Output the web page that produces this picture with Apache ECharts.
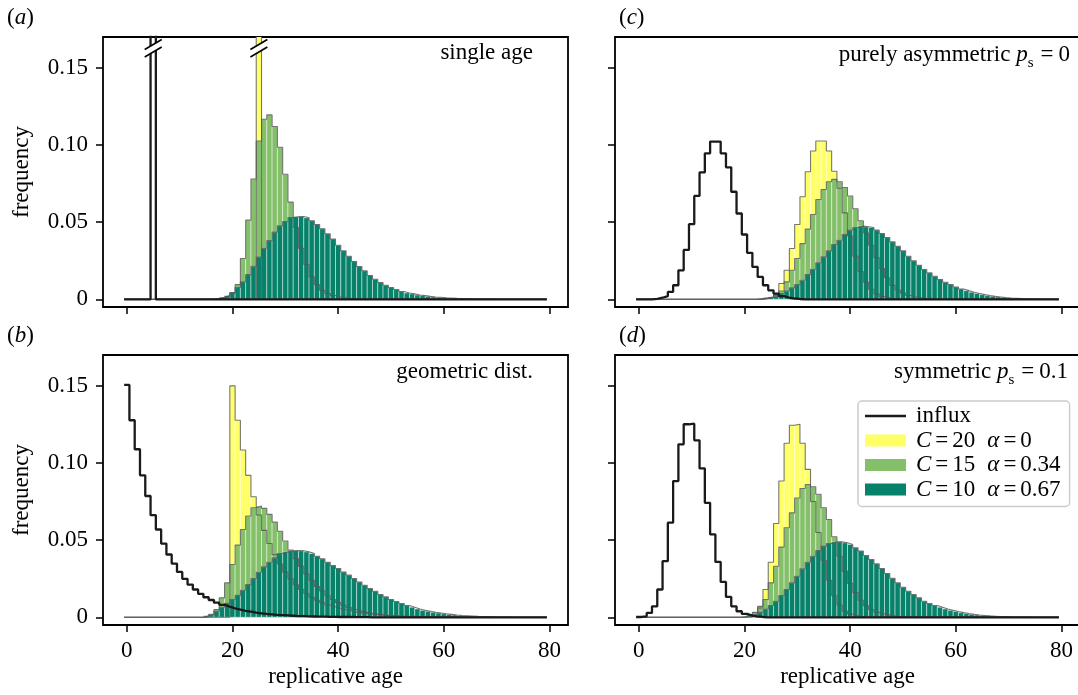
<!DOCTYPE html>
<html><head><meta charset="utf-8">
<script src="https://cdn.jsdelivr.net/npm/echarts@6/dist/echarts.min.js"></script>
<style>html,body{margin:0;padding:0;background:#fff}#c{width:1078px;height:695px}</style>
</head><body><div id="c"></div>
<script>
// ---------- data ----------
const ages = [0,1,2,3,4,5,6,7,8,9,10,11,12,13,14,15,16,17,18,19,20,21,22,23,24,25,26,27,28,29,30,31,32,33,34,35,36,37,38,39,
40,41,42,43,44,45,46,47,48,49,50,51,52,53,54,55,56,57,58,59,60,61,62,63,64,65,66,67,68,69,70,71,72,73,74,75,76,77,78,79];
const xTicks = [0,20,40,60,80];
const xTickLabels = ['0','20','40','60','80'];
const yTicks = [0,0.05,0.1,0.15];
const yTickLabels = ['0','0.05','0.10','0.15'];

// (a) single age
const influxA = [0,0,0,0,0,1,0,0,0,0, 0,0,0,0,0,0,0,0,0,0, 0,0,0,0,0,0,0,0,0,0, 0,0,0,0,0,0,0,0,0,0,
 0,0,0,0,0,0,0,0,0,0, 0,0,0,0,0,0,0,0,0,0, 0,0,0,0,0,0,0,0,0,0, 0,0,0,0,0,0,0,0,0,0];
const yellowA = [0,0,0,0,0,0,0,0,0,0, 0,0,0,0,0,0,0,0,0,0, 0,0,0,0,0,1,0,0,0,0, 0,0,0,0,0,0,0,0,0,0,
 0,0,0,0,0,0,0,0,0,0, 0,0,0,0,0,0,0,0,0,0, 0,0,0,0,0,0,0,0,0,0, 0,0,0,0,0,0,0,0,0,0];
const greenA = [0,0,0,0,0,0,0,0,0,0, 0,0,0,0,0,0,0,0,0,0.0015,
 0.004,0.0095,0.0264,0.0513,0.078,0.1026,0.1167,0.1195,0.112,0.0985,
 0.081,0.063,0.0465,0.033,0.0225,0.0145,0.0095,0.0058,0.0037,0.0024,
 0.0015,0.001,0.0006,0.0003,0,0,0,0,0,0, 0,0,0,0,0,0,0,0,0,0, 0,0,0,0,0,0,0,0,0,0, 0,0,0,0,0,0,0,0,0,0];
const tealA = [0,0,0,0,0,0,0,0,0,0, 0,0,0,0,0,0,0,0.0006,0.0013,0.0024,
 0.0043,0.0076,0.0113,0.016,0.0214,0.0273,0.0331,0.038,0.0435,0.0476,
 0.0504,0.053,0.0535,0.0537,0.0528,0.0509,0.0485,0.0457,0.0424,0.039,
 0.035,0.0314,0.0279,0.0245,0.0212,0.0184,0.0154,0.013,0.0108,0.0091,
 0.0076,0.0063,0.005,0.0041,0.0035,0.0028,0.0024,0.0019,0.0015,0.0013,
 0.001,0.0008,0.0006,0.0005,0.0004,0.0003,0.0002,0.0002,0.0001,0.0001, 0,0,0,0,0,0,0,0,0,0];
const breaksA = [[5,0.1627],[25,0.1627]];

// (b) geometric dist.
const influxB = [0.1506,0.1277,0.1089,0.092,0.0786,0.0662,0.0569,0.0478,0.0407,0.0348,
 0.0294,0.0249,0.0212,0.018,0.0152,0.013,0.0112,0.0095,0.0081,0.0069,
 0.0058,0.005,0.0042,0.0036,0.003,0.0026,0.0022,0.0019,0.0016,0.0014,
 0.0012,0.001,0.0008,0.0007,0.0006,0.0005,0.0004,0.0004,0.0003,0.0003,
 0.0002,0.0002,0.0002,0.0001,0.0001,0.0001,0,0,0,0, 0,0,0,0,0,0,0,0,0,0, 0,0,0,0,0,0,0,0,0,0, 0,0,0,0,0,0,0,0,0,0];
const yellowB = [0,0,0,0,0,0,0,0,0,0, 0,0,0,0,0,0,0,0,0,0,
 0.15,0.1277,0.1084,0.092,0.0781,0.0663,0.0563,0.0478,0.0406,0.0345,
 0.0293,0.0249,0.0211,0.018,0.0153,0.013,0.011,0.0094,0.008,0.0068,
 0.0058,0.0049,0.0042,0.0035,0.003,0.0026,0.0022,0.0019,0.0016,0.0013,
 0.0011,0.001,0.0008,0.0007,0.0006,0.0005,0.0004,0.0004,0.0003,0.0003,
 0.0002,0.0002,0.0002,0.0001,0.0001,0.0001,0,0,0,0, 0,0,0,0,0,0,0,0,0,0];
const greenB = [0,0,0,0,0,0,0,0,0,0, 0,0,0,0,0,0,0.002,0.005,0.0126,0.0223,
 0.0342,0.0468,0.0569,0.0656,0.071,0.0721,0.0706,0.0667,0.0617,0.0558,
 0.0494,0.0435,0.038,0.033,0.028,0.024,0.02,0.017,0.014,0.0115,
 0.0095,0.0078,0.0063,0.005,0.004,0.0032,0.0025,0.002,0.0015,0.0012,
 0.0009,0.0007,0.0005,0.0004,0.0003,0.0002,0.0002,0.0001,0,0, 0,0,0,0,0,0,0,0,0,0, 0,0,0,0,0,0,0,0,0,0];
const tealB = [0,0,0,0,0,0,0,0,0,0, 0,0,0,0,0,0.001,0.0017,0.004,0.0065,0.009,
 0.0115,0.0142,0.0175,0.0212,0.0251,0.0292,0.0327,0.0357,0.0385,0.0413,
 0.0424,0.0429,0.0433,0.0431,0.0424,0.0413,0.0396,0.0379,0.0357,0.0335,
 0.0316,0.0294,0.0273,0.0251,0.0229,0.0208,0.0186,0.0169,0.0147,0.0132,
 0.0115,0.0102,0.0089,0.0076,0.0065,0.0054,0.0045,0.0039,0.0033,0.0028,
 0.0023,0.0019,0.0015,0.0012,0.001,0.0008,0.0006,0.0005,0.0004,0.0003,
 0.0002,0.0002,0.0001,0,0,0,0,0,0,0];

// (c) purely asymmetric
const influxC = [0,0,0,0.0003,0.001,0.002,0.0048,0.0091,0.0188,0.032,
 0.0487,0.067,0.0822,0.0946,0.1022,0.1022,0.0946,0.0855,0.0697,0.0556,
 0.042,0.0301,0.021,0.0145,0.0091,0.0058,0.0037,0.002,0.001,0.0005,
 0.0002,0,0,0,0,0,0,0,0,0, 0,0,0,0,0,0,0,0,0,0, 0,0,0,0,0,0,0,0,0,0, 0,0,0,0,0,0,0,0,0,0, 0,0,0,0,0,0,0,0,0,0];
const yellowC = [0,0,0,0,0,0,0,0,0,0, 0,0,0,0,0,0,0,0,0,0,
 0,0,0,0,0.0006,0.0015,0.003,0.0102,0.0188,0.0329,
 0.0485,0.0665,0.0827,0.0961,0.1026,0.1026,0.0961,0.083,0.072,0.056,
 0.041,0.028,0.018,0.011,0.0065,0.0035,0.0018,0.0009,0.0004,0.0002,
 0,0,0,0,0,0,0,0,0,0, 0,0,0,0,0,0,0,0,0,0, 0,0,0,0,0,0,0,0,0,0];
const greenC = [0,0,0,0,0,0,0,0,0,0, 0,0,0,0,0,0,0,0,0,0,
 0,0,0,0,0.0005,0.001,0.0025,0.0054,0.0113,0.0188,
 0.0264,0.0361,0.0455,0.055,0.0647,0.0712,0.0762,0.0777,0.0762,0.0725,
 0.0669,0.0587,0.0509,0.043,0.035,0.027,0.02,0.014,0.009,0.006,
 0.004,0.0025,0.0015,0.001,0.0005,0.0003,0,0,0,0, 0,0,0,0,0,0,0,0,0,0, 0,0,0,0,0,0,0,0,0,0];
const tealC = [0,0,0,0,0,0,0,0,0,0, 0,0,0,0,0,0,0,0,0,0,
 0,0,0,0.0005,0.001,0.0015,0.002,0.0037,0.0054,0.0074,
 0.0095,0.0123,0.016,0.0195,0.0236,0.0275,0.0314,0.0355,0.0383,0.042,
 0.0448,0.0465,0.0474,0.047,0.0465,0.0448,0.0426,0.04,0.0372,0.0344,
 0.0314,0.0279,0.0249,0.0221,0.0193,0.0171,0.0149,0.0128,0.011,0.0095,
 0.008,0.0067,0.0056,0.0046,0.0038,0.003,0.0024,0.0019,0.0015,0.0011,
 0.0008,0.0006,0.0004,0.0003,0.0002,0.0001,0,0,0,0];

// (d) symmetric
const influxD = [0.0002,0.0006,0.0028,0.0071,0.018,0.0364,0.0613,0.0883,0.1121,0.1251,
 0.1255,0.1147,0.0965,0.0742,0.0537,0.0359,0.0229,0.0132,0.0071,0.0039,
 0.0022,0.0011,0.0005,0.0002,0,0,0,0,0,0, 0,0,0,0,0,0,0,0,0,0,
 0,0,0,0,0,0,0,0,0,0, 0,0,0,0,0,0,0,0,0,0, 0,0,0,0,0,0,0,0,0,0, 0,0,0,0,0,0,0,0,0,0];
const yellowD = [0,0,0,0,0,0,0,0,0,0, 0,0,0,0,0,0,0,0,0,0,
 0,0,0.002,0.006,0.018,0.0357,0.0608,0.0883,0.1128,0.1245,
 0.1251,0.1128,0.0959,0.075,0.055,0.037,0.024,0.014,0.008,0.004,
 0.002,0.001,0.0005,0,0,0,0,0,0,0, 0,0,0,0,0,0,0,0,0,0, 0,0,0,0,0,0,0,0,0,0, 0,0,0,0,0,0,0,0,0,0];
const greenD = [0,0,0,0,0,0,0,0,0,0, 0,0,0,0,0,0,0,0,0,0,
 0,0.0015,0.0032,0.0071,0.0115,0.0223,0.0331,0.0455,0.058,0.0677,
 0.0773,0.0835,0.0861,0.0846,0.0797,0.071,0.0634,0.0522,0.0396,0.0299,
 0.022,0.016,0.011,0.0075,0.005,0.0033,0.0022,0.0014,0.0009,0.0005,
 0.0003,0,0,0,0,0,0,0,0,0, 0,0,0,0,0,0,0,0,0,0, 0,0,0,0,0,0,0,0,0,0];
const tealD = [0,0,0,0,0,0,0,0,0,0, 0,0,0,0,0,0,0,0,0,0,
 0.0005,0.001,0.0017,0.0032,0.0054,0.0076,0.0104,0.0141,0.018,0.0223,
 0.0266,0.0314,0.0357,0.0396,0.0433,0.0461,0.0478,0.0489,0.0489,0.0483,
 0.0472,0.045,0.0429,0.04,0.0374,0.0346,0.0316,0.0284,0.0253,0.0223,
 0.0195,0.0169,0.0147,0.0126,0.0104,0.0089,0.0076,0.0065,0.0054,0.0045,
 0.0037,0.003,0.0024,0.0019,0.0015,0.0012,0.0009,0.0007,0.0005,0.0004,
 0.0003,0.0002,0.0002,0.0001,0,0,0,0,0,0];

// ---------- styling ----------
const F = 'Liberation Serif';
const COL = {influx:'#1a1a1a', c20:'#ffff66', c15:'#84c06a', c10:'#07826a'};
const FS = 23;

const panels = [
  {influx:influxA, c20:yellowA, c15:greenA, c10:tealA, breaks:breaksA, left:103, top:37, xl:false, yl:true},
  {influx:influxB, c20:yellowB, c15:greenB, c10:tealB, breaks:null, left:103, top:355, xl:true, yl:true},
  {influx:influxC, c20:yellowC, c15:greenC, c10:tealC, breaks:null, left:615, top:37, xl:false, yl:false},
  {influx:influxD, c20:yellowD, c15:greenD, c10:tealD, breaks:null, left:615, top:355, xl:true, yl:false}
];

function barRender(color){
  return function(params, api){
    const a = api.value(0), v = api.value(1);
    if (!(v > 0)) return null;
    const p0 = api.coord([a - 0.5, v]), p1 = api.coord([a + 0.5, 0]);
    return {type:'rect', shape:{x:p0[0], y:p0[1], width:p1[0]-p0[0], height:p1[1]-p0[1]},
      style:{fill:color, stroke:'rgba(255,255,255,0.55)', lineWidth:0.8}};
  };
}
function stepData(vals){
  const out = [];
  ages.forEach((a,i)=>{ out.push([a-0.5, vals[i]]); out.push([a+0.5, vals[i]]); });
  return out;
}
function breakRender(params, api){
  const c = api.coord([api.value(0), api.value(1)]);
  const hw = 8.5, dy = 5, g = 3.8;
  const L1 = [[c[0]-hw, c[1]-g+dy],[c[0]+hw, c[1]-g-dy]];
  const L2 = [[c[0]-hw, c[1]+g+dy],[c[0]+hw, c[1]+g-dy]];
  return {type:'group', children:[
    {type:'polygon', shape:{points:[L1[0],L1[1],L2[1],L2[0]]}, style:{fill:'#fff'}},
    {type:'line', shape:{x1:L1[0][0],y1:L1[0][1],x2:L1[1][0],y2:L1[1][1]}, style:{stroke:'#000', lineWidth:1.6}},
    {type:'line', shape:{x1:L2[0][0],y1:L2[0][1],x2:L2[1][0],y2:L2[1][1]}, style:{stroke:'#000', lineWidth:1.6}}
  ]};
}

const grids = [], xAxes = [], yAxes = [], series = [];
panels.forEach((p,k)=>{
  grids.push({left:p.left, top:p.top, width:465, height:270, show:true, borderColor:'#000', borderWidth:1.8,
    backgroundColor:'rgba(0,0,0,0)', containLabel:false, outerBoundsMode:'none'});
  xAxes.push({type:'value', gridIndex:k, min:-4.5, max:83.5, position:'bottom',
    axisLine:{show:false, onZero:false}, splitLine:{show:false},
    axisTick:{show:true, customValues:xTicks, length:7, lineStyle:{color:'#000', width:1.5}},
    axisLabel:{show:p.xl, customValues:xTicks, formatter:(v)=>xTickLabels[xTicks.indexOf(v)],
      margin:14, fontFamily:F, fontSize:FS, color:'#000'},
    name:p.xl ? 'replicative age' : '', nameLocation:'middle', nameGap:40,
    nameTextStyle:{fontFamily:F, fontSize:FS, color:'#000'}});
  yAxes.push({type:'value', gridIndex:k, min:-0.005, max:0.17, position:'left',
    axisLine:{show:false, onZero:false}, splitLine:{show:false},
    axisTick:{show:true, customValues:yTicks, length:7, lineStyle:{color:'#000', width:1.5}},
    axisLabel:{show:p.yl, customValues:yTicks, formatter:(v)=>yTickLabels[yTicks.indexOf(v)],
      margin:15, fontFamily:F, fontSize:FS, color:'#000'},
    name:p.yl ? 'frequency' : '', nameLocation:'middle', nameGap:70,
    nameTextStyle:{fontFamily:F, fontSize:FS, color:'#000'}});
  ['c20','c15','c10'].forEach((key,j)=>{
    series.push({type:'custom', name:key, xAxisIndex:k, yAxisIndex:k, z:1+j, clip:true, silent:true,
      itemStyle:{color:COL[key]}, renderItem:barRender(COL[key]),
      data:ages.map((a,i)=>[a, p[key][i]])});
  });
  ['c20','c15','c10'].forEach((key)=>{
    series.push({type:'line', name:key+' edge', xAxisIndex:k, yAxisIndex:k, z:5, silent:true,
      symbol:'none', lineStyle:{color:'rgba(85,85,85,0.8)', width:1.1}, data:stepData(p[key])});
  });
  series.push({type:'line', name:'influx', xAxisIndex:k, yAxisIndex:k, z:6, silent:true, color:COL.influx,
    symbol:'none', lineStyle:{color:COL.influx, width:2.3}, itemStyle:{color:COL.influx}, data:stepData(p.influx)});
  if (p.breaks){
    series.push({type:'custom', name:'breaks', xAxisIndex:k, yAxisIndex:k, z:7, silent:true,
      renderItem:breakRender, data:p.breaks});
  }
});

const base = {fontFamily:F, fontSize:FS, color:'#000', lineHeight:24};
const rich = {
  t: Object.assign({}, base),
  p: Object.assign({}, base),
  i: Object.assign({}, base, {fontStyle:'italic'}),
  e: Object.assign({}, base, {padding:[0,5,0,6]}),
  q: Object.assign({}, base, {padding:[0,4,0,4]}),
  s: {fontFamily:F, fontSize:15, color:'#000', lineHeight:15, padding:[17,1,0,0]},
  lt: Object.assign({}, base, {padding:[0,0,0,5]}),
  li: Object.assign({}, base, {fontStyle:'italic', padding:[0,0,0,5]}),
  la: Object.assign({}, base, {fontStyle:'italic', padding:[0,0,0,12]})
};
function T(text, pos){
  return Object.assign({text:text, padding:0, textStyle:Object.assign({}, base, {fontWeight:'normal', rich:rich})}, pos);
}
const titles = [
  T('{p|(}{i|a}{p|)}', {left:7, top:6}),
  T('{p|(}{i|b}{p|)}', {left:7, top:324}),
  T('{p|(}{i|c}{p|)}', {left:619, top:6}),
  T('{p|(}{i|d}{p|)}', {left:619, top:324}),
  T('{t|single age}', {right:545, top:41}),
  T('{t|geometric dist.}', {right:545, top:360}),
  T('{t|purely asymmetric }{i|p}{s|s}{e|=}{t|0}', {right:8, top:43}),
  T('{t|symmetric }{i|p}{s|s}{e|=}{t|0.1}', {right:10, top:360})
];

const legendLabels = {
  influx:'{lt|influx}',
  c20:'{li|C}{q|=}{t|20}{la|α}{q|=}{t|0}',
  c15:'{li|C}{q|=}{t|15}{la|α}{q|=}{t|0.34}',
  c10:'{li|C}{q|=}{t|10}{la|α}{q|=}{t|0.67}'
};

const chart = echarts.init(document.getElementById('c'), null, {renderer:'canvas'});
chart.setOption({
  animation:false,
  backgroundColor:'#fff',
  title:titles,
  grid:grids, xAxis:xAxes, yAxis:yAxes, series:series,
  legend:{
    orient:'vertical', left:858, top:401, align:'left', selectedMode:false,
    padding:[3,9,5,7], itemGap:0.5, itemWidth:41, itemHeight:12,
    backgroundColor:'#fff', borderColor:'#cccccc', borderWidth:1.5, borderRadius:4,
    itemStyle:{borderWidth:0},
    data:[{name:'influx', icon:'path://M0,0L41,0L41,2.6L0,2.6Z'},{name:'c20', icon:'rect'},{name:'c15', icon:'rect'},{name:'c10', icon:'rect'}],
    formatter:(n)=>legendLabels[n],
    textStyle:Object.assign({}, base, {rich:rich})
  }
});
</script></body></html>
